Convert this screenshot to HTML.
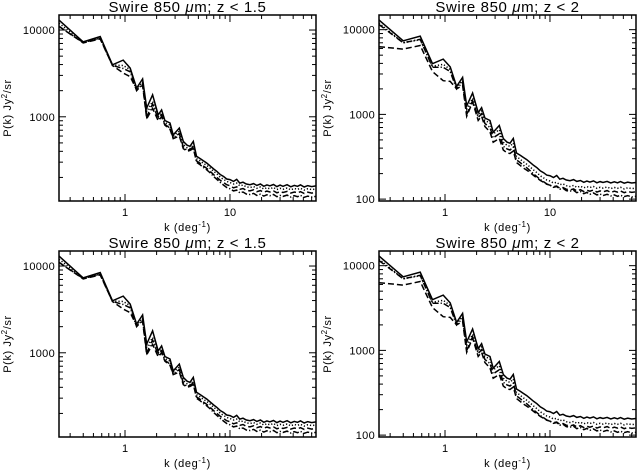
<!DOCTYPE html>
<html><head><meta charset="utf-8"><style>
html,body{margin:0;padding:0;background:#fff;}
svg{display:block;font-family:"Liberation Sans","DejaVu Sans",sans-serif;}
</style></head><body>
<svg id="fig" width="639" height="470" viewBox="0 0 639 470"></svg>
<script>
const kValues=[0.235,0.4,0.58,0.76,0.96,1.12,1.29,1.47,1.61,1.83,2.07,2.23,2.4,2.68,2.88,3.29,3.59,3.9,4.16,4.47,4.8,5.2,5.6,6.0,6.5,7.0,7.5,8.1,8.7,9.3,10,10.8,11.6,12.4,13.3,14.3,15.5,16.8,18,19.5,21,22.5,24,26,28,30,32,35,38,41,44,47,51,55,60,66];
const z15Solid=[13000,7300,8400,3970,4500,3640,2140,2730,1260,1790,1050,1200,906,847,617,740,520,470,457,520,350,330,310,293,270,250,235,215,205,192,189,180,190,172,176,168,165,170,162,168,158,164,160,166,157,163,158,165,156,162,158,164,155,161,157,160];
const z15Dotted=[12000,7300,8000,3950,3900,3500,2100,2500,1150,1500,1000,1100,860,800,600,680,480,440,430,470,330,310,290,275,255,235,220,200,190,180,175,168,172,160,163,156,153,157,150,155,147,152,148,153,145,150,146,151,144,149,146,150,143,148,145,147];
const z15Dashed=[11000,7100,7900,3900,3200,2900,2050,2300,950,1250,900,1000,800,720,560,600,430,400,410,430,310,290,270,255,235,215,200,185,175,165,160,152,156,146,149,142,140,144,137,141,135,139,136,140,133,137,134,138,132,136,133,137,131,135,132,134];
const z15DashDot=[11000,7200,8000,3900,3600,3300,2000,2400,1000,1400,950,1050,820,740,570,640,450,410,420,450,300,280,260,245,225,205,190,175,163,153,148,140,143,133,136,129,127,131,124,128,122,126,123,127,120,124,121,125,119,123,120,124,118,122,119,121];
const z2Solid=[13000,7400,8400,3970,4500,3640,2140,2730,1260,1790,1050,1200,906,847,617,740,520,470,457,520,350,330,310,293,270,250,235,215,205,192,189,180,190,172,176,168,165,170,162,166,158,163,159,164,156,161,157,162,155,160,156,161,154,159,155,157];
const z2Dotted=[12000,7000,7600,3700,3900,3400,2100,2500,1150,1550,980,1100,850,790,590,660,470,430,420,460,320,295,275,258,238,220,205,188,178,168,163,155,158,148,151,144,141,145,138,142,136,140,137,141,134,138,135,139,133,137,134,138,132,136,133,135];
const z2Dashed=[6300,5900,6500,3200,2500,2450,2000,2200,950,1400,850,950,720,620,470,520,380,350,345,370,270,250,232,220,205,190,178,166,158,150,146,140,143,134,137,131,128,132,125,129,123,127,124,128,121,125,122,126,120,124,121,125,119,123,120,122];
const z2DashDot=[11500,7000,7700,3600,3600,3200,2000,2400,1000,1450,920,1020,780,700,530,590,420,390,380,410,290,270,250,235,215,198,184,170,160,151,146,138,141,131,134,126,124,127,119,123,116,120,114,118,112,115,110,114,109,112,108,111,107,110,106,108];
const yTicksLeft=[1000,10000];
const yTicksRight=[100,1000,10000];
const xTickLabels=[1,10];

const svg=document.getElementById('fig');
const NS='http://www.w3.org/2000/svg';
function mk(tag,attrs,parent){const e=document.createElementNS(NS,tag);for(const k in attrs)e.setAttribute(k,attrs[k]);(parent||svg).appendChild(e);return e;}
function panel(id,x0,y0,title,ymin,ymax,series,yTicks){
  const x1=x0+257, y1=y0+186;
  const lk0=Math.log10(0.235), lk1=Math.log10(66);
  const ly0=Math.log10(ymin), ly1=Math.log10(ymax);
  const sx=k=>x0+(Math.log10(k)-lk0)/(lk1-lk0)*(x1-x0);
  const sy=v=>y1-(Math.log10(v)-ly0)/(ly1-ly0)*(y1-y0);
  const g=mk('g',{});
  
  
  const t=mk('text',{x:(x0+x1)/2,y:y0-3,'text-anchor':'middle','font-size':'15','letter-spacing':'0.6'},g);
  
  
  t.innerHTML=title;
  for(let e=-1;e<=1;e++)for(let m=1;m<10;m++){const k=m*Math.pow(10,e);if(k<0.235||k>66)continue;const x=sx(k);const L=m===1?7:4;
    mk('line',{x1:x,x2:x,y1:y1,y2:y1-L,stroke:'#000'},g);mk('line',{x1:x,x2:x,y1:y0,y2:y0+L,stroke:'#000'},g);}
  xTickLabels.forEach(k=>{const tl=mk('text',{x:sx(k),y:y1+15,'text-anchor':'middle','font-size':'11'},g);
    
    
    tl.textContent=k;});
  for(let e=1;e<=4;e++)for(let m=1;m<10;m++){const v=m*Math.pow(10,e);if(v<ymin||v>ymax)continue;const y=sy(v);const L=m===1?7:4;
    mk('line',{x1:x0,x2:x0+L,y1:y,y2:y,stroke:'#000'},g);mk('line',{x1:x1,x2:x1-L,y1:y,y2:y,stroke:'#000'},g);}
  yTicks.forEach(v=>{if(v<ymin||v>ymax)return;const tl=mk('text',{x:x0-4,y:sy(v)+4,'text-anchor':'end','font-size':'11','letter-spacing':'0.3'},g);
    
    
    tl.textContent=v;});
  const xl=mk('text',{x:(x0+x1)/2,y:y1+30,'text-anchor':'middle','font-size':'11','letter-spacing':'0.6'},g);
  
  
  xl.innerHTML='k (deg<tspan dy="-4" font-size="8">-1</tspan><tspan dy="4">)</tspan>';
  const yl=mk('text',{transform:`translate(${x0-48},${(y0+y1)/2}) rotate(-90)`,'text-anchor':'middle','font-size':'11','letter-spacing':'0.6'},g);
  
  
  yl.innerHTML='P(k) Jy<tspan dy="-4" font-size="8">2</tspan><tspan dy="4">/sr</tspan>';
  const cp='clip-'+id;
  const cl=mk('clipPath',{id:cp},g);mk('rect',{x:x0,y:y0,width:x1-x0,height:y1-y0},cl);
  series.forEach((s,i)=>{const pts=kValues.map((k,j)=>sx(k).toFixed(1)+','+sy(s[j]).toFixed(1)).join(' ');
    const a={points:pts,fill:'none',stroke:'#000','stroke-width':'1.5','clip-path':`url(#${cp})`};
    if(i>0)a['stroke-dasharray']=['','1.2,2','6,3','6,2,1.2,2'][i];
    const pl=mk('polyline',a,g);
    
    });
  const box=mk('rect',{x:x0,y:y0,width:x1-x0,height:y1-y0,fill:'none',stroke:'#000','stroke-width':'1.5'},g);
  
  
}
const tl1='Swire 850 <tspan font-style="italic">μ</tspan>m; z &lt; 1.5';
const tl2='Swire 850 <tspan font-style="italic">μ</tspan>m; z &lt; 2';
const L=[z15Solid,z15Dotted,z15Dashed,z15DashDot], R=[z2Solid,z2Dotted,z2Dashed,z2DashDot];
panel('panel-top-left',59,15,tl1,107,14900,L,yTicksLeft);
panel('panel-top-right',379,15,tl2,95,14900,R,yTicksRight);
panel('panel-bottom-left',59,251,tl1,107,14900,L,yTicksLeft);
panel('panel-bottom-right',379,251,tl2,95,14900,R,yTicksRight);
</script>
</body></html>
